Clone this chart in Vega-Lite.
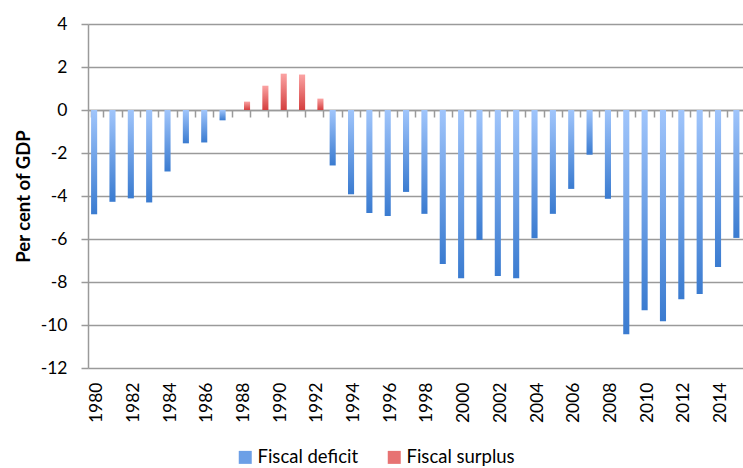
{
  "$schema": "https://vega.github.io/schema/vega-lite/v6.json",
  "width": 655,
  "height": 344,
  "autosize": {"type": "none"},
  "padding": {"left": 88, "top": 24, "right": 0, "bottom": 100},
  "background": "white",
  "config": {
    "font": "Lato",
    "view": {"stroke": null},
    "axis": {"labelColor": "#000", "titleColor": "#000"}
  },
  "data": {
    "values": [
      {"year": 1980, "value": -4.85, "series": "Fiscal deficit"},
      {"year": 1981, "value": -4.27, "series": "Fiscal deficit"},
      {"year": 1982, "value": -4.11, "series": "Fiscal deficit"},
      {"year": 1983, "value": -4.30, "series": "Fiscal deficit"},
      {"year": 1984, "value": -2.86, "series": "Fiscal deficit"},
      {"year": 1985, "value": -1.55, "series": "Fiscal deficit"},
      {"year": 1986, "value": -1.51, "series": "Fiscal deficit"},
      {"year": 1987, "value": -0.48, "series": "Fiscal deficit"},
      {"year": 1988, "value": 0.39, "series": "Fiscal surplus"},
      {"year": 1989, "value": 1.13, "series": "Fiscal surplus"},
      {"year": 1990, "value": 1.69, "series": "Fiscal surplus"},
      {"year": 1991, "value": 1.65, "series": "Fiscal surplus"},
      {"year": 1992, "value": 0.53, "series": "Fiscal surplus"},
      {"year": 1993, "value": -2.58, "series": "Fiscal deficit"},
      {"year": 1994, "value": -3.92, "series": "Fiscal deficit"},
      {"year": 1995, "value": -4.79, "series": "Fiscal deficit"},
      {"year": 1996, "value": -4.93, "series": "Fiscal deficit"},
      {"year": 1997, "value": -3.81, "series": "Fiscal deficit"},
      {"year": 1998, "value": -4.83, "series": "Fiscal deficit"},
      {"year": 1999, "value": -7.16, "series": "Fiscal deficit"},
      {"year": 2000, "value": -7.82, "series": "Fiscal deficit"},
      {"year": 2001, "value": -6.05, "series": "Fiscal deficit"},
      {"year": 2002, "value": -7.72, "series": "Fiscal deficit"},
      {"year": 2003, "value": -7.82, "series": "Fiscal deficit"},
      {"year": 2004, "value": -5.97, "series": "Fiscal deficit"},
      {"year": 2005, "value": -4.83, "series": "Fiscal deficit"},
      {"year": 2006, "value": -3.67, "series": "Fiscal deficit"},
      {"year": 2007, "value": -2.08, "series": "Fiscal deficit"},
      {"year": 2008, "value": -4.13, "series": "Fiscal deficit"},
      {"year": 2009, "value": -10.43, "series": "Fiscal deficit"},
      {"year": 2010, "value": -9.31, "series": "Fiscal deficit"},
      {"year": 2011, "value": -9.82, "series": "Fiscal deficit"},
      {"year": 2012, "value": -8.80, "series": "Fiscal deficit"},
      {"year": 2013, "value": -8.56, "series": "Fiscal deficit"},
      {"year": 2014, "value": -7.30, "series": "Fiscal deficit"},
      {"year": 2015, "value": -5.95, "series": "Fiscal deficit"}
    ]
  },
  "encoding": {
    "y": {
      "field": "value",
      "type": "quantitative",
      "scale": {"domain": [-12, 4], "nice": false, "zero": false},
      "axis": {
        "values": [-12, -10, -8, -6, -4, -2, 0, 2, 4],
        "labelExpr": "'' + datum.value",
        "title": "Per cent of GDP",
        "titleFontSize": 18.5,
        "titleFontWeight": "bold",
        "titlePadding": 7,
        "labelFontSize": 17.5,
        "labelPadding": 14,
        "tickSize": 7,
        "tickColor": "#9a9a9a",
        "tickWidth": 1.5,
        "domainColor": "#9a9a9a",
        "domainWidth": 1.5,
        "grid": true,
        "gridColor": "#9a9a9a",
        "gridWidth": 1.5
      }
    }
  },
  "layer": [
    {
      "mark": {"type": "bar", "strokeWidth": 0},
      "encoding": {
        "x": {
          "field": "year",
          "type": "ordinal",
          "scale": {"range": [0, 660.6], "paddingInner": 0.335, "paddingOuter": 0.1675},
          "axis": {
            "orient": "bottom",
            "offset": -258,
            "labels": false,
            "title": null,
            "grid": false,
            "tickBand": "extent",
            "ticks": true,
            "tickSize": 7,
            "tickColor": "#9a9a9a",
            "tickWidth": 1.5,
            "domain": true,
            "domainColor": "#9a9a9a",
            "domainWidth": 1.5
          }
        },
        "xOffset": {"field": "series", "type": "nominal", "scale": {"domain": ["Fiscal deficit", "Fiscal surplus"], "paddingInner": 0, "paddingOuter": 0}},
        "fill": {
          "condition": {
            "test": "datum.series === 'Fiscal surplus'",
            "value": {"gradient": "linear", "x1": 0, "y1": 0, "x2": 0, "y2": 1, "stops": [{"offset": 0, "color": "#fba3a3"}, {"offset": 1, "color": "#d43f3f"}]}
          },
          "value": {"gradient": "linear", "x1": 0, "y1": 0, "x2": 0, "y2": 1, "stops": [{"offset": 0, "color": "#a0c5fb"}, {"offset": 1, "color": "#3a7bd0"}]}
        }
      }
    },
    {
      "mark": {"type": "bar", "opacity": 0},
      "encoding": {
        "x": {
          "field": "year",
          "type": "ordinal",
          "scale": {"range": [0, 660.6], "paddingInner": 0.335, "paddingOuter": 0.1675},
          "axis": {
            "orient": "bottom",
            "title": null,
            "grid": false,
            "ticks": false,
            "domain": false,
            "labelAngle": 270,
            "labelFontSize": 17.5,
            "labelPadding": 14,
            "labelOverlap": false,
            "labelExpr": "datum.value % 2 === 0 ? datum.label : ''"
          }
        },
        "color": {
          "field": "series",
          "type": "nominal",
          "scale": {"domain": ["Fiscal deficit", "Fiscal surplus"], "range": ["#6c9fe6", "#e77272"]},
          "legend": {
            "orient": "none",
            "legendX": 148,
            "legendY": 424,
            "direction": "horizontal",
            "title": null,
            "symbolType": "square",
            "symbolSize": 169,
            "symbolStrokeWidth": 0,
            "symbolOpacity": 1,
            "labelFontSize": 18.5,
            "labelColor": "#000",
            "labelOffset": 3,
            "columnPadding": 26
          }
        }
      }
    }
  ],
  "resolve": {"axis": {"x": "independent"}}
}
